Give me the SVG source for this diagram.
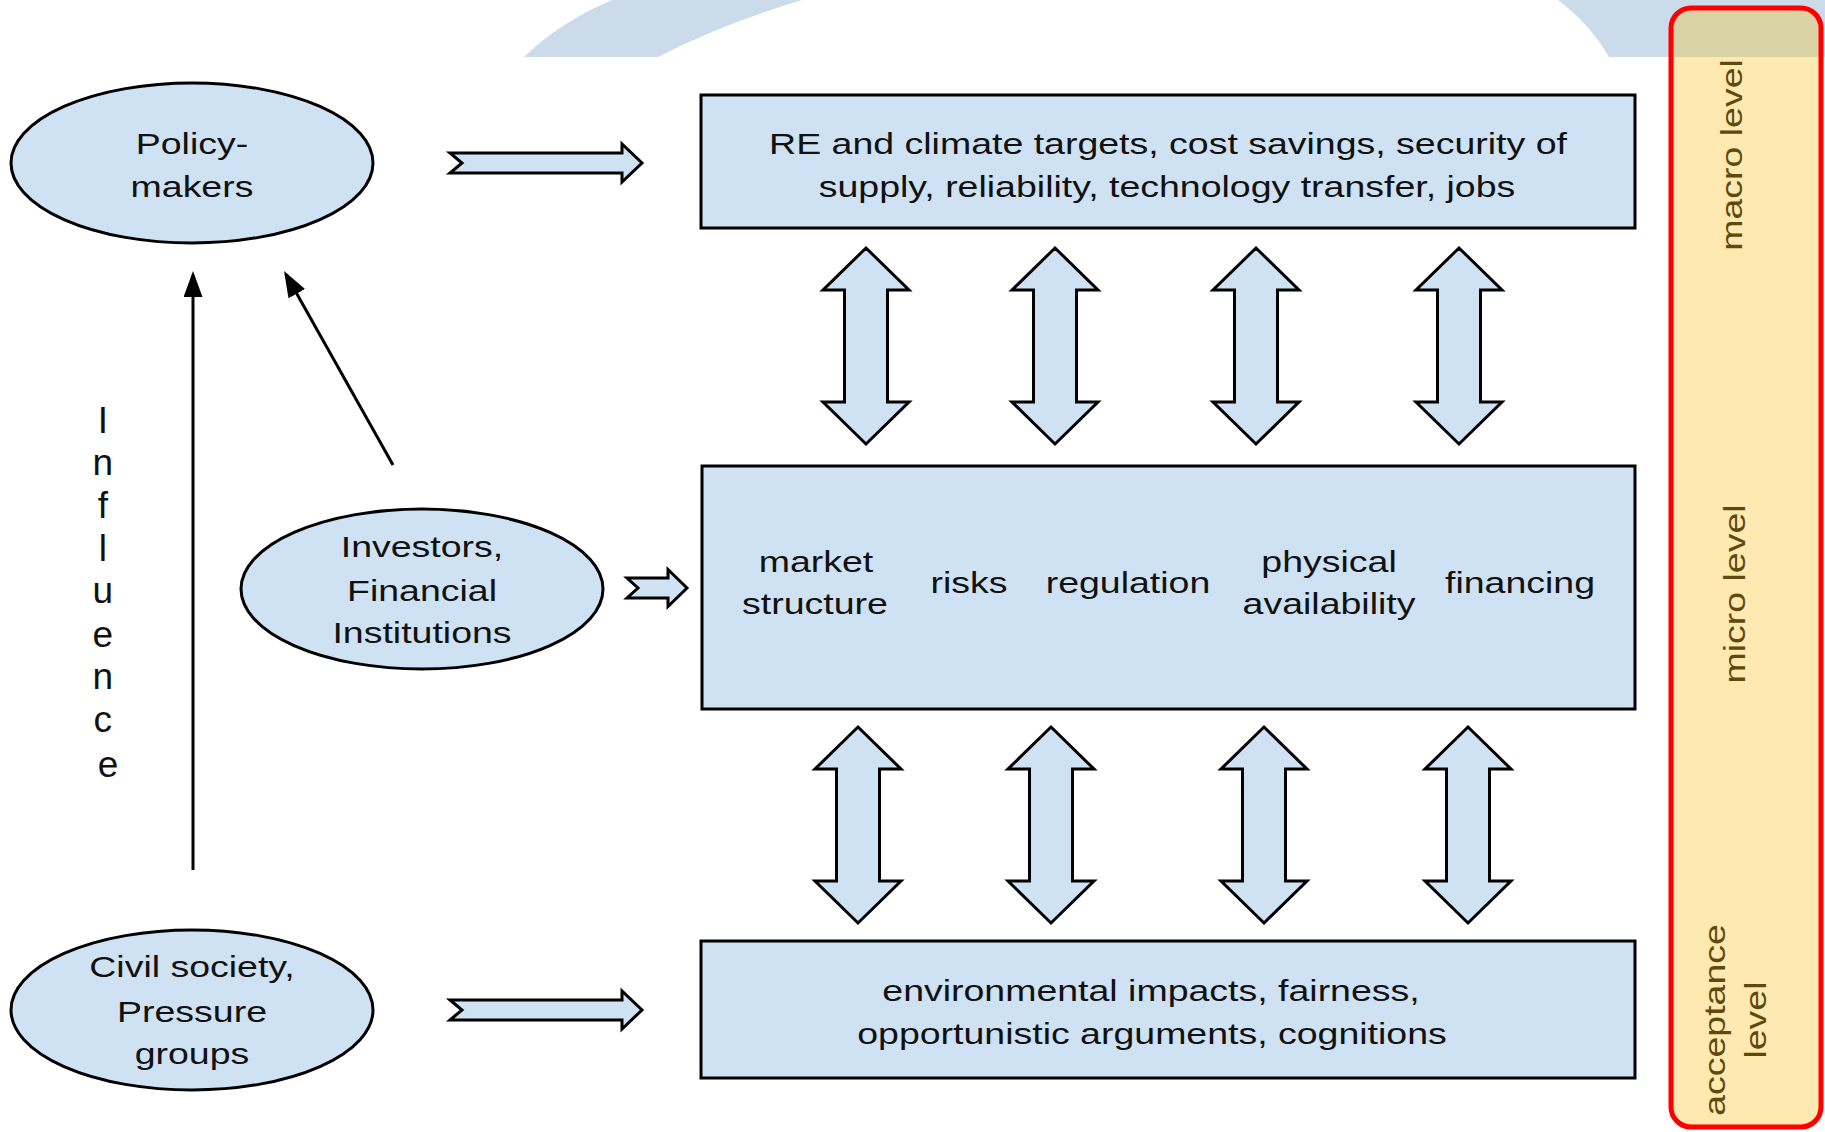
<svg xmlns="http://www.w3.org/2000/svg" width="1825" height="1132" viewBox="0 0 1825 1132">
  <style>
    .box { fill: #CFE2F3; stroke: #000; stroke-width: 3; }
    .blk { fill: #CFE2F3; stroke: #000; stroke-width: 3; stroke-linejoin: miter; }
    .t { font-family: "Liberation Sans", Arial, sans-serif; font-size: 37.5px; fill: #111; text-anchor: middle; }
    .lv { font-family: "Liberation Sans", Arial, sans-serif; font-size: 37.5px; fill: #5E4A0C; text-anchor: middle; }
    .thin { fill: none; stroke: #000; stroke-width: 3; marker-end: url(#head); }
  </style>
  <defs>
    <marker id="head" viewBox="0 0 26 19" refX="22" refY="9.5" markerWidth="26" markerHeight="19" markerUnits="userSpaceOnUse" orient="auto">
      <path d="M0,0 L26,9.5 L0,19 Z" fill="#000"/>
    </marker>
    <!-- two-headed vertical block arrow, top tip at origin -->
    <path id="dbl" d="M0,0 L43,42 L21.5,42 L21.5,154 L43,154 L0,196 L-43,154 L-21.5,154 L-21.5,42 L-43,42 Z"/>
    <!-- long notched block arrow, tail centre at origin -->
    <path id="longArrow" d="M0,-10 L172,-10 L172,-19 L192,0 L172,19 L172,10 L0,10 L12,0 Z"/>
    <!-- short notched block arrow -->
    <path id="shortArrow" d="M0,-10 L41,-10 L41,-18.5 L60,0 L41,18.5 L41,10 L0,10 L11,0 Z"/>
    <clipPath id="levelClip">
      <rect x="1671" y="8" width="150" height="1119" rx="20"/>
    </clipPath>
  </defs>

  <rect width="1825" height="1132" fill="#fff"/>

  <!-- background arc segments along the top edge -->
  <g id="backdrop" fill="#CBDBEA">
    <path d="M524,57 Q560,22 612,0 L802,0 Q722,24 658,57 Z"/>
    <path d="M1558,0 L1825,0 L1825,57 L1609,57 Q1590,24 1558,0 Z"/>
  </g>

  <!-- level column -->
  <g id="levels">
    <rect x="1671" y="8" width="150" height="1119" rx="20" fill="#FEE9B1"/>
    <rect x="1660" y="0" width="170" height="57" fill="#DAD3A6" clip-path="url(#levelClip)"/>
    <rect x="1671" y="8" width="150" height="1119" rx="20" fill="none" stroke="#FF0000" stroke-width="5"/>
    <text class="lv" transform="translate(1742 155) rotate(-90) scale(1 .8)">macro level</text>
    <text class="lv" transform="translate(1745 594) rotate(-90) scale(1 .8)">micro level</text>
    <text class="lv" transform="translate(1725 1020) rotate(-90) scale(1 .8)">acceptance</text>
    <text class="lv" transform="translate(1766 1020) rotate(-90) scale(1 .8)">level</text>
  </g>

  <!-- connectors -->
  <g id="connectors">
    <use href="#longArrow" class="blk" transform="translate(450 163)"/>
    <use href="#shortArrow" class="blk" transform="translate(627 588)"/>
    <use href="#longArrow" class="blk" transform="translate(450 1010)"/>

    <use href="#dbl" class="blk" transform="translate(866 248)"/>
    <use href="#dbl" class="blk" transform="translate(1055 248)"/>
    <use href="#dbl" class="blk" transform="translate(1256 248)"/>
    <use href="#dbl" class="blk" transform="translate(1459 248)"/>

    <use href="#dbl" class="blk" transform="translate(858 727)"/>
    <use href="#dbl" class="blk" transform="translate(1051 727)"/>
    <use href="#dbl" class="blk" transform="translate(1264 727)"/>
    <use href="#dbl" class="blk" transform="translate(1468 727)"/>

    <line class="thin" x1="193" y1="870" x2="193" y2="275"/>
    <line class="thin" x1="393" y1="465" x2="286" y2="274.5"/>
  </g>

  <text class="t" style="font-size:37px; text-anchor:middle">
    <tspan x="108" y="433">I</tspan>
    <tspan x="108" y="475">n</tspan>
    <tspan x="108" y="518">f</tspan>
    <tspan x="108" y="561">l</tspan>
    <tspan x="108" y="603">u</tspan>
    <tspan x="108" y="647">e</tspan>
    <tspan x="108" y="689">n</tspan>
    <tspan x="108" y="732">c</tspan>
    <tspan x="108" y="777">e</tspan>
  </text>

  <!-- actors -->
  <g id="policy-makers">
    <ellipse class="box" cx="192" cy="163" rx="181" ry="80"/>
    <text class="t" transform="translate(192 154) scale(1 .8)">Policy-</text>
    <text class="t" transform="translate(192 197) scale(1 .8)">makers</text>
  </g>
  <g id="investors">
    <ellipse class="box" cx="422" cy="589" rx="181" ry="80"/>
    <text class="t" transform="translate(422 557) scale(1 .8)">Investors,</text>
    <text class="t" transform="translate(422 601) scale(1 .8)">Financial</text>
    <text class="t" transform="translate(422 643) scale(1 .8)">Institutions</text>
  </g>
  <g id="civil-society">
    <ellipse class="box" cx="192" cy="1010" rx="181" ry="80"/>
    <text class="t" transform="translate(192 977) scale(1 .8)">Civil society,</text>
    <text class="t" transform="translate(192 1022) scale(1 .8)">Pressure</text>
    <text class="t" transform="translate(192 1064) scale(1 .8)">groups</text>
  </g>

  <!-- levels of factors -->
  <g id="macro-box">
    <rect class="box" x="701" y="95" width="934" height="133"/>
    <text class="t" transform="translate(1168 154) scale(1 .8)">RE and climate targets, cost savings, security of</text>
    <text class="t" transform="translate(1167 197) scale(1 .8)">supply, reliability, technology transfer, jobs</text>
  </g>
  <g id="micro-box">
    <rect class="box" x="702" y="466" width="933" height="243"/>
    <text class="t" transform="translate(816 572) scale(1 .8)">market</text>
    <text class="t" transform="translate(815 614) scale(1 .8)">structure</text>
    <text class="t" transform="translate(969 593) scale(1 .8)">risks</text>
    <text class="t" transform="translate(1128 593) scale(1 .8)">regulation</text>
    <text class="t" transform="translate(1329 572) scale(1 .8)">physical</text>
    <text class="t" transform="translate(1329 614) scale(1 .8)">availability</text>
    <text class="t" transform="translate(1520 593) scale(1 .8)">financing</text>
  </g>
  <g id="acceptance-box">
    <rect class="box" x="701" y="941" width="934" height="137"/>
    <text class="t" transform="translate(1151 1001) scale(1 .8)">environmental impacts, fairness,</text>
    <text class="t" transform="translate(1152 1044) scale(1 .8)">opportunistic arguments, cognitions</text>
  </g>
</svg>
